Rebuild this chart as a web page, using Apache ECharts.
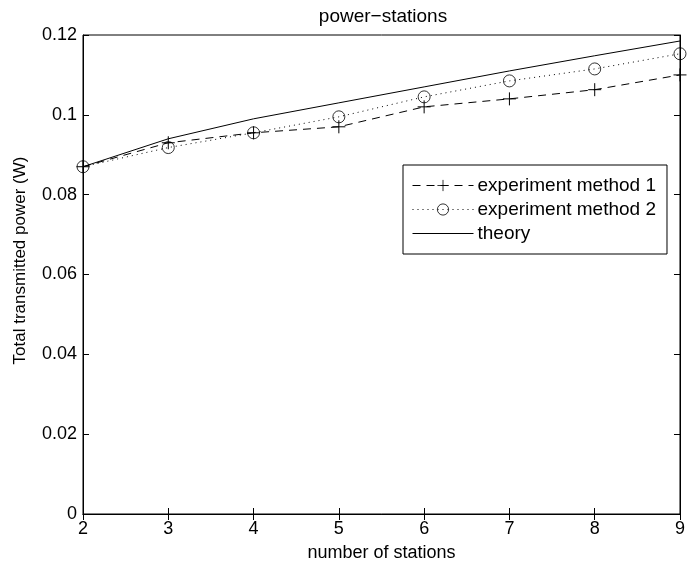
<!DOCTYPE html>
<html>
<head>
<meta charset="utf-8">
<script src="https://cdn.jsdelivr.net/npm/echarts@6/dist/echarts.min.js"></script>
<style>
html,body{margin:0;padding:0;background:#fff;}
#main{width:688px;height:567px;}
</style>
</head>
<body>
<div id="main"></div>
<script>
// data
var stations = [2, 3, 4, 5, 6, 7, 8, 9];
var method1 = [0.087, 0.093, 0.0955, 0.097, 0.102, 0.104, 0.1063, 0.110];
var method2 = [0.087, 0.0918, 0.0955, 0.0995, 0.1045, 0.1085, 0.1115, 0.1153];
var theory = [0.087, 0.094, 0.099, 0.103, 0.107, 0.111, 0.1148, 0.1185];

function pairs(xs, ys) {
    var out = [];
    for (var i = 0; i < xs.length; i++) {
        out.push([xs[i], ys[i]]);
    }
    return out;
}

var font = 'Liberation Sans, Arial, sans-serif';
var fs = 18;
var plus = 'path://M0,5L10,5M5,0L5,10';

var myChart = echarts.init(document.getElementById('main'));
var option = {
    animation: false,
    backgroundColor: '#fff',
    title: {
        text: 'power\u2212stations',
        left: 378,
        textAlign: 'center',
        top: 2,
        textStyle: {fontFamily: font, fontSize: 19, fontWeight: 'normal', color: '#000'}
    },
    legend: {
        left: 403,
        top: 165,
        orient: 'vertical',
        itemWidth: 61,
        itemHeight: 14,
        itemGap: 5,
        padding: [11, 11, 11, 9],
        borderColor: '#000',
        borderWidth: 1,
        backgroundColor: '#fff',
        lineStyle: {width: 1},
        textStyle: {fontFamily: font, fontSize: 19, color: '#000', padding: [0, 0, 0, -1]},
        data: [
            {name: 'experiment method 1', itemStyle: {borderWidth: 0.8}},
            {name: 'experiment method 2', itemStyle: {borderWidth: 0.8}},
            {name: 'theory', itemStyle: {color: 'transparent', borderColor: 'transparent', borderWidth: 0}}
        ]
    },
    grid: {
        left: 83, right: 8, top: 35, bottom: 51,
        show: true, borderColor: '#000', borderWidth: 1
    },
    xAxis: [{
        type: 'value', min: 2, max: 9, interval: 1,
        name: 'number of stations', nameLocation: 'middle', nameGap: 30,
        nameTextStyle: {fontFamily: font, fontSize: fs, color: '#000'},
        axisLine: {lineStyle: {color: '#000'}},
        axisTick: {inside: true, length: 6, lineStyle: {color: '#000'}},
        axisLabel: {fontFamily: font, fontSize: fs, color: '#000', margin: 6},
        splitLine: {show: false}
    }, {
        type: 'value', min: 2, max: 9, interval: 1, position: 'top',
        axisLine: {lineStyle: {color: '#000'}},
        axisTick: {inside: true, length: 6, lineStyle: {color: '#000'}},
        axisLabel: {show: false},
        splitLine: {show: false}
    }],
    yAxis: [{
        type: 'value', min: 0, max: 0.12, interval: 0.02,
        name: 'Total transmitted power (W)', nameLocation: 'middle', nameGap: 54,
        nameTextStyle: {fontFamily: font, fontSize: 17, color: '#000', padding: [0, 0, 0, 28]},
        axisLine: {show: true, lineStyle: {color: '#000'}},
        axisTick: {show: true, inside: true, length: 6, lineStyle: {color: '#000'}},
        axisLabel: {fontFamily: font, fontSize: fs, color: '#000', margin: 6},
        splitLine: {show: false}
    }, {
        type: 'value', min: 0, max: 0.12, interval: 0.02, position: 'right',
        axisLine: {show: true, lineStyle: {color: '#000'}},
        axisTick: {show: true, inside: true, length: 6, lineStyle: {color: '#000'}},
        axisLabel: {show: false},
        splitLine: {show: false}
    }],
    series: [{
        name: 'experiment method 1',
        type: 'line',
        clip: false,
        data: pairs(stations, method1),
        symbol: plus,
        symbolSize: 13,
        lineStyle: {color: '#000', width: 1, type: [8, 6]},
        itemStyle: {color: 'transparent', borderColor: '#000', borderWidth: 1}
    }, {
        name: 'experiment method 2',
        type: 'line',
        clip: false,
        data: pairs(stations, method2),
        symbol: 'circle',
        symbolSize: 12,
        lineStyle: {color: '#000', width: 1, type: [1, 4]},
        itemStyle: {color: 'transparent', borderColor: '#000', borderWidth: 0.8}
    }, {
        name: 'theory',
        type: 'line',
        clip: false,
        data: pairs(stations, theory),
        symbol: 'none',
        lineStyle: {color: '#000', width: 1},
        itemStyle: {color: '#000'}
    }]
};
myChart.setOption(option);
</script>
</body>
</html>
